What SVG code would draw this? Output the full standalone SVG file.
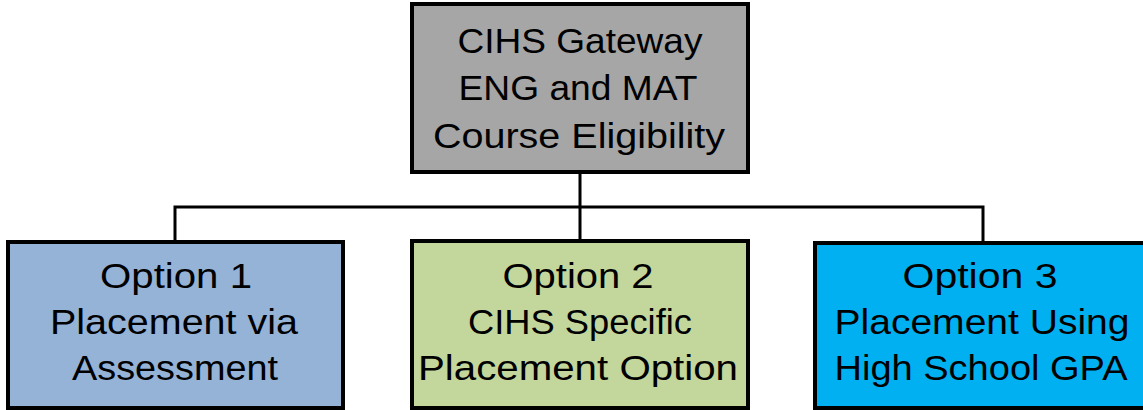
<svg xmlns="http://www.w3.org/2000/svg" width="1143" height="410" viewBox="0 0 1143 410">
<style>
.box{stroke:#000;stroke-width:4}
.t{font-family:"Liberation Sans","Noto Sans",sans-serif;font-size:35px;fill:#000;text-anchor:middle}
.c{fill:none;stroke:#000;stroke-width:3}
</style>
<rect width="1143" height="410" fill="#fff"/>
<g id="connectors">
<path class="c" d="M580 172V241M175 242V207H983V243"/>
</g>
<g id="root">
<rect class="box" x="412" y="4" width="336" height="168" fill="#A6A6A6"/>
<text class="t" x="580" y="53" textLength="245" lengthAdjust="spacingAndGlyphs">CIHS Gateway</text>
<text class="t" x="578" y="100" textLength="239" lengthAdjust="spacingAndGlyphs">ENG and MAT</text>
<text class="t" x="579" y="148" textLength="292" lengthAdjust="spacingAndGlyphs">Course Eligibility</text>
</g>
<g id="opt1">
<rect class="box" x="8" y="242" width="335" height="166" fill="#95B3D7"/>
<text class="t" x="176" y="288" textLength="152" lengthAdjust="spacingAndGlyphs">Option 1</text>
<text class="t" x="174" y="334" textLength="248" lengthAdjust="spacingAndGlyphs">Placement via</text>
<text class="t" x="175" y="380" textLength="206" lengthAdjust="spacingAndGlyphs">Assessment</text>
</g>
<g id="opt2">
<rect class="box" x="412" y="241" width="336" height="167" fill="#C3D69B"/>
<text class="t" x="578" y="288" textLength="151" lengthAdjust="spacingAndGlyphs">Option 2</text>
<text class="t" x="580" y="334" textLength="224" lengthAdjust="spacingAndGlyphs">CIHS Specific</text>
<text class="t" x="578" y="380" textLength="320" lengthAdjust="spacingAndGlyphs">Placement Option</text>
</g>
<g id="opt3">
<rect class="box" x="815" y="243" width="336" height="165" fill="#00B0F0"/>
<text class="t" x="980" y="288" textLength="155" lengthAdjust="spacingAndGlyphs">Option 3</text>
<text class="t" x="982" y="334" textLength="295" lengthAdjust="spacingAndGlyphs">Placement Using</text>
<text class="t" x="981" y="380" textLength="293" lengthAdjust="spacingAndGlyphs">High School GPA</text>
</g>
</svg>
